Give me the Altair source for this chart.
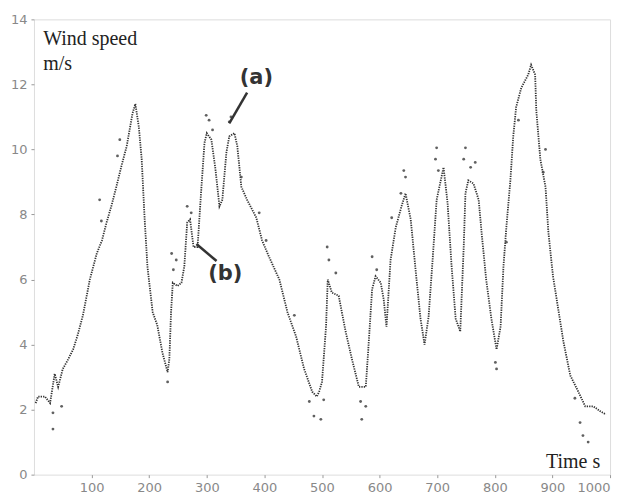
import altair as alt
import pandas as pd

# Model curve (b) — time [s], wind speed [m/s]
model_t = [3, 7, 19, 28, 36, 42, 50, 58, 68, 76, 85, 97, 109, 118, 126, 135, 143, 152, 161, 171,
           176, 182, 187, 192, 197, 206, 214, 223, 232, 235, 238, 241, 249, 256, 261, 266, 271, 277,
           284, 290, 296, 300, 308, 315, 322, 327, 334, 339, 348, 353, 360, 370, 386, 396, 408, 426,
           440, 455, 469, 483, 491, 495, 500, 507, 510, 517, 529, 541, 552, 564, 576, 580, 587, 593,
           602, 607, 612, 619, 628, 638, 645, 654, 663, 671, 678, 685, 692, 699, 711, 718, 725, 732,
           740, 746, 749, 754, 763, 772, 777, 785, 794, 803, 810, 815, 820, 827, 832, 837, 846, 858,
           863, 870, 872, 879, 888, 893, 901, 910, 919, 931, 945, 957, 971, 983, 993]
model_v = [2.2, 2.4, 2.4, 2.2, 3.1, 2.7, 3.25, 3.5, 3.85, 4.3, 4.9, 6.0, 6.8, 7.2, 7.75, 8.3, 8.85, 9.5, 10.1, 11.1,
           11.4, 10.7, 9.7, 7.9, 6.4, 5.0, 4.6, 3.75, 3.15, 3.55, 5.0, 5.9, 5.8, 5.9, 6.4, 7.75, 7.85, 7.0,
           7.0, 8.65, 10.2, 10.5, 10.3, 9.4, 8.25, 8.45, 9.9, 10.4, 10.5, 10.1, 8.85, 8.45, 7.9, 7.2, 6.7, 6.0,
           5.0, 4.25, 3.25, 2.55, 2.4, 2.55, 2.85, 4.55, 6.0, 5.6, 5.5, 4.4, 3.55, 2.7, 2.7, 3.75, 5.7, 6.1,
           5.9, 5.4, 4.55, 6.6, 7.6, 8.25, 8.65, 7.85, 6.2, 4.8, 4.0, 4.85, 6.6, 8.45, 9.45, 8.35, 6.4, 4.8,
           4.4, 7.0, 8.65, 9.05, 8.95, 8.45, 7.45, 6.0, 4.8, 3.85, 4.55, 6.4, 7.6, 9.05, 10.4, 11.3, 11.9, 12.3,
           12.6, 12.3, 11.2, 9.7, 8.85, 7.45, 6.1, 5.1, 4.1, 3.05, 2.55, 2.1, 2.1, 1.95, 1.85]

# Measured points (a) that stand off the curve
meas_t = [33, 33, 48, 114, 117, 145, 149, 232, 239, 242, 247, 266, 273, 299, 304, 310, 339, 342, 360,
          391, 403, 452, 478, 486, 498, 503, 509, 512, 524, 567, 569, 576, 587, 595, 621, 637, 642, 645,
          697, 699, 702, 746, 749, 758, 766, 801, 803, 820, 841, 884, 888, 939, 948, 953, 962]
meas_v = [1.9, 1.4, 2.1, 8.45, 7.8, 9.8, 10.3, 2.85, 6.8, 6.3, 6.6, 8.25, 8.05, 11.05, 10.9, 10.6, 10.85, 11.0, 9.15,
          8.05, 7.2, 4.9, 2.25, 1.8, 1.7, 2.3, 7.0, 6.6, 6.2, 2.25, 1.7, 2.1, 6.7, 6.3, 7.9, 8.65, 9.35, 9.15,
          9.7, 10.05, 9.35, 9.7, 10.05, 9.45, 9.6, 3.45, 3.25, 7.15, 10.9, 9.3, 10.0, 2.35, 1.6, 1.2, 1.0]

x_ticks = [100, 200, 300, 400, 500, 600, 700, 800, 900, 1000]
y_ticks = [0, 2, 4, 6, 8, 10, 12, 14]

model = pd.DataFrame({"t": model_t, "v": model_v})
meas = pd.DataFrame({"t": meas_t, "v": meas_v})

xs = alt.Scale(domain=[0, 1000], nice=False, zero=False)
ys = alt.Scale(domain=[0, 14], nice=False)

X = alt.X("t:Q", scale=xs, axis=alt.Axis(values=x_ticks, format="d", title=None, grid=False, domain=False,
                                          tickSize=3, tickColor="#999", labelColor="#888",
                                          labelFont="DejaVu Sans", labelFontSize=13, labelPadding=4))
Y = alt.Y("v:Q", scale=ys, axis=alt.Axis(values=y_ticks, format="d", title=None, grid=False, domain=False,
                                          tickSize=3, tickColor="#999", labelColor="#888",
                                          labelFont="DejaVu Sans", labelFontSize=13, labelPadding=4))

line = alt.Chart(model).mark_line(color="#333", strokeWidth=1.8, strokeDash=[1.3, 1.1]).encode(x=X, y=Y)
pts = alt.Chart(meas).mark_circle(size=8, color="#444", opacity=0.85).encode(x="t:Q", y="v:Q")

# text labels
lab_t = [16, 16]
lab_v = [13.2, 12.43]
lab_s = ["Wind speed", "m/s"]
labels = alt.Chart(pd.DataFrame({"t": lab_t, "v": lab_v, "s": lab_s})).mark_text(
    align="left", baseline="alphabetic", font="Liberation Serif", fontSize=20, color="#222"
).encode(x="t:Q", y="v:Q", text="s:N")

time_lab = alt.Chart(pd.DataFrame({"t": [983], "v": [0.21], "s": ["Time s"]})).mark_text(
    align="right", baseline="alphabetic", font="Liberation Serif", fontSize=20, color="#222"
).encode(x="t:Q", y="v:Q", text="s:N")

ann_t = [386, 332]
ann_v = [12.2, 6.17]
ann_s = ["(a)", "(b)"]
ann = alt.Chart(pd.DataFrame({"t": ann_t, "v": ann_v, "s": ann_s})).mark_text(
    align="center", baseline="middle", font="DejaVu Sans", fontSize=21, fontWeight="bold", color="#333"
).encode(x="t:Q", y="v:Q", text="s:N")

ptr_t1 = [370, 282]
ptr_v1 = [11.75, 7.09]
ptr_t2 = [339, 317]
ptr_v2 = [10.8, 6.57]
ptr = alt.Chart(pd.DataFrame({"t": ptr_t1, "v": ptr_v1, "t2": ptr_t2, "v2": ptr_v2})).mark_rule(
    color="#333", strokeWidth=2.5
).encode(x="t:Q", y="v:Q", x2="t2:Q", y2="v2:Q")

chart = alt.layer(line, pts, ptr, ann, labels, time_lab).properties(
    width=577, height=456,
    autosize=alt.AutoSizeParams(type="none"),
    padding={"left": 26, "top": 11, "right": 20, "bottom": 20},
).configure_view(
    stroke="#555", strokeDash=[1.5, 1.5], strokeWidth=1.5
).configure(background="white")

chart.save("out.html", embed_options={"renderer": "svg", "actions": False})
